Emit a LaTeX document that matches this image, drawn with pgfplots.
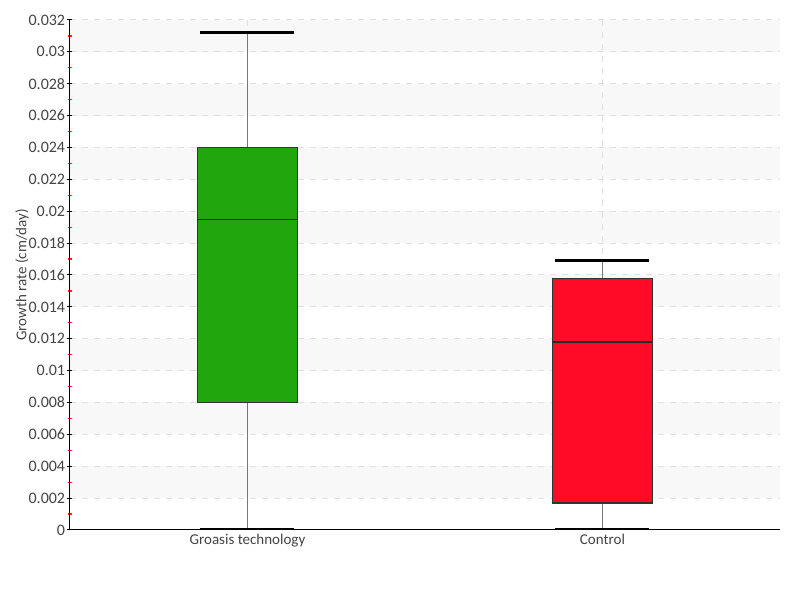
\documentclass[border=0pt]{standalone}
\usepackage{fontspec}
\setmainfont{Carlito}
\usepackage{pgfplots}
\pgfplotsset{compat=1.18}
\usepgfplotslibrary{statistics}
\definecolor{groasis}{HTML}{22A60E}
\definecolor{control}{HTML}{FF0A27}
\definecolor{band}{HTML}{F8F8F8}
\definecolor{gridc}{HTML}{E0E0E0}
\definecolor{txt}{HTML}{444444}
\definecolor{whisk}{HTML}{777777}
\definecolor{minortick}{HTML}{FF2020}

\pgfplotsset{
  boxplot/draw/lower whisker/.code={%
    \draw[whisk, line width=0.9pt]
      (boxplot box cs:\pgfplotsboxplotvalue{lower whisker},0.5) --
      (boxplot box cs:\pgfplotsboxplotvalue{lower quartile},0.5);
    \draw[black, line width=1.5pt]
      (boxplot box cs:\pgfplotsboxplotvalue{lower whisker},0.02) --
      (boxplot box cs:\pgfplotsboxplotvalue{lower whisker},0.97);
  },
  boxplot/draw/upper whisker/.code={%
    \draw[whisk, line width=0.9pt]
      (boxplot box cs:\pgfplotsboxplotvalue{upper whisker},0.5) --
      (boxplot box cs:\pgfplotsboxplotvalue{upper quartile},0.5);
    \draw[black, line width=1.5pt]
      (boxplot box cs:\pgfplotsboxplotvalue{upper whisker},0.02) --
      (boxplot box cs:\pgfplotsboxplotvalue{upper whisker},0.97);
  },
}

\begin{document}
\begin{tikzpicture}
\begin{axis}[
  set layers,
  at={(0,0)}, anchor=south west,
  scale only axis, width=355pt, height=255pt,
  xmin=-0.5, xmax=1.5, ymin=0, ymax=0.032,
  axis x line*=bottom, axis y line*=left,
  axis line style={black, line width=0.5pt},
  xtick={0,1},
  xticklabels={Groasis technology, Control},
  x tick style={draw=none},
  ytick={0,0.002,0.004,0.006,0.008,0.010,0.012,0.014,0.016,0.018,0.020,0.022,0.024,0.026,0.028,0.030,0.032},
  minor ytick={0.001,0.003,0.005,0.007,0.009,0.011,0.013,0.015,0.017,0.019,0.021,0.023,0.025,0.027,0.029,0.031},
  y tick style={black, line width=0.5pt},
  minor y tick style={minortick, line width=0.6pt},
  tick align=center,
  major tick length=2.5pt, minor tick length=2pt,
  scaled y ticks=false,
  yticklabel style={/pgf/number format/fixed, /pgf/number format/precision=3, inner xsep=1pt},
  /pgf/number format/assume math mode=true,
  tick label style={font=\fontsize{8}{9}\selectfont, text=txt},
  xticklabel style={yshift=2.5pt, font=\fontsize{7.5}{9}\selectfont},
  grid=major,
  major grid style={gridc, dashed, line width=0.5pt},
  ylabel={Growth rate (cm/day)},
  ylabel style={at={(axis description cs:-0.0676,0.5)}, anchor=center,
    font=\fontsize{7.5}{9}\selectfont, text=txt},
  boxplot/draw direction=y,
  boxplot/box extend=0.28,
  boxplot/every median/.style={draw=black!85, line width=0.6pt},
  boxplot/every box/.style={draw=black!80, line width=0.6pt},
]
\begin{pgfonlayer}{axis background}
  \fill[band] (axis cs:-0.5,0.030) rectangle (axis cs:1.5,0.032);
  \fill[band] (axis cs:-0.5,0.026) rectangle (axis cs:1.5,0.028);
  \fill[band] (axis cs:-0.5,0.022) rectangle (axis cs:1.5,0.024);
  \fill[band] (axis cs:-0.5,0.018) rectangle (axis cs:1.5,0.020);
  \fill[band] (axis cs:-0.5,0.014) rectangle (axis cs:1.5,0.016);
  \fill[band] (axis cs:-0.5,0.010) rectangle (axis cs:1.5,0.012);
  \fill[band] (axis cs:-0.5,0.006) rectangle (axis cs:1.5,0.008);
  \fill[band] (axis cs:-0.5,0.002) rectangle (axis cs:1.5,0.004);
\end{pgfonlayer}

\addplot[fill=groasis, boxplot prepared={draw position=0,
  lower whisker=0, lower quartile=0.0080, median=0.0195,
  upper quartile=0.0240, upper whisker=0.0312}] coordinates {};
\addplot[fill=control, boxplot prepared={draw position=1,
  lower whisker=0, lower quartile=0.0017, median=0.0118,
  upper quartile=0.0158, upper whisker=0.0169}] coordinates {};
\end{axis}
\path (-35pt,-35pt) rectangle (365pt,265pt);
\end{tikzpicture}
\end{document}
